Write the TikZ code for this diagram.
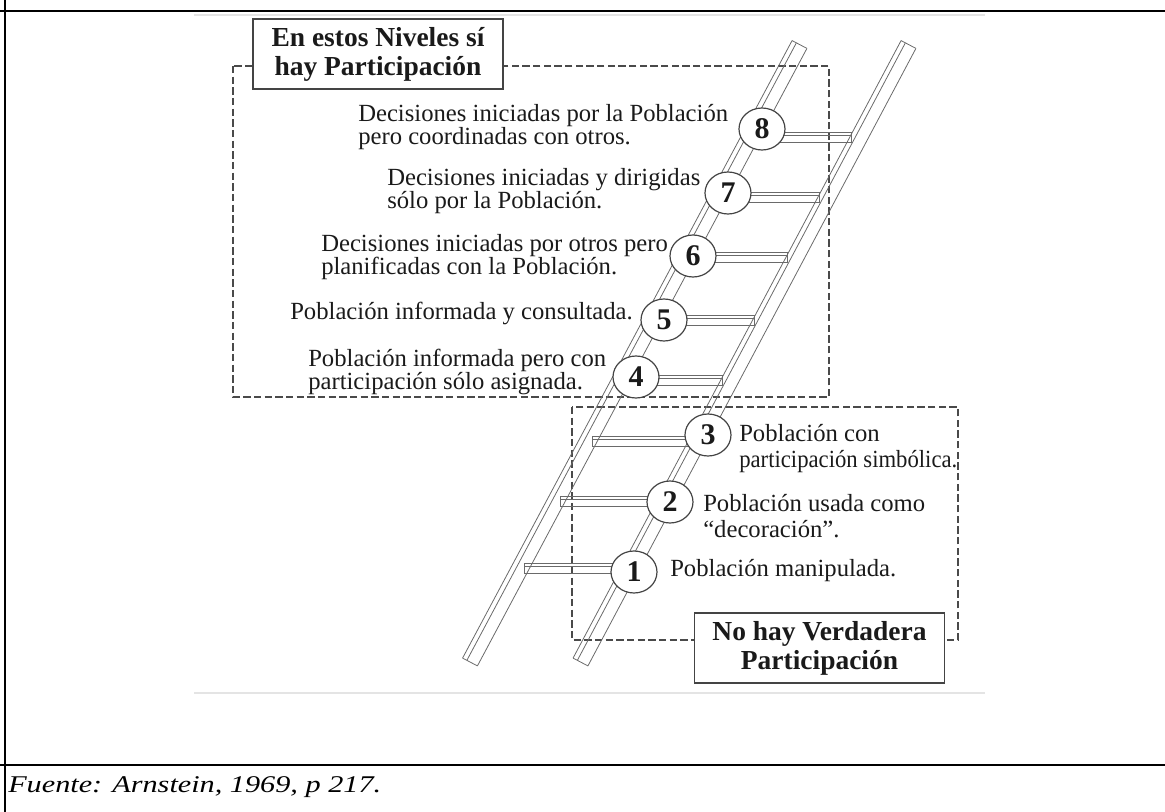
\documentclass[tikz,border=0pt]{standalone}
\usepackage{fontspec}
\setmainfont{Liberation Serif}
\usepackage{graphicx}
\usetikzlibrary{shapes.geometric, calc}

\definecolor{inkgray}{HTML}{1A1A1A}
\definecolor{boxgray}{HTML}{444444}
\definecolor{railgray}{HTML}{6A6A6A}
\definecolor{dashgray}{HTML}{4A4A4A}
\definecolor{edgegray}{HTML}{E4E4E4}

\newcommand{\tightlines}{\setlength{\lineskiplimit}{-100pt}\setlength{\lineskip}{0pt}}

\begin{document}
\begin{tikzpicture}[
      x=0.75pt, y=-0.75pt,
      frameline/.style={
        line width=1.5pt
      },
      levelbox/.style={
        draw=dashgray,
        line width=0.8pt,
        dash pattern=on 5.5pt off 2.5pt
      },
      titlebox/.style={
        rectangle,
        draw=boxgray,
        line width=0.9pt,
        fill=white,
        minimum width=187.5pt,
        minimum height=52.5pt,
        inner sep=0pt,
        align=center,
        text=inkgray,
        font=\fontsize{20.6}{21.75}\selectfont\tightlines\bfseries
      },
      stepnum/.style={
        ellipse,
        draw=boxgray,
        line width=0.9pt,
        fill=white,
        minimum width=34.5pt,
        minimum height=31.5pt,
        inner sep=0pt,
        text=inkgray,
        font=\fontsize{22.5}{22.5}\selectfont\bfseries
      },
      toptext/.style={
        anchor=west,
        inner sep=0pt,
        align=left,
        text=inkgray,
        font=\fontsize{18.5}{17.25}\selectfont\tightlines
      },
      lowtext/.style={
        toptext,
        font=\fontsize{18.5}{19.5}\selectfont\tightlines
      },
      railline/.style={
        draw=railgray,
        line width=0.6pt
      }
    ]
    \useasboundingbox (0,0) rectangle (1165,812);

    % Table frame
    \draw [frameline] (0,11) -- (1165,11);
    \draw [frameline] (0,765) -- (1165,765);
    \draw [frameline] (5,0) -- (5,812);
    \draw [edgegray, line width=0.8pt] (194,15) -- (985,15);
    \draw [edgegray, line width=0.8pt] (194,693) -- (985,693);

    % Dashed level boxes
    \draw [levelbox] (233,66) rectangle (829,397);
    \draw [levelbox] (572,407) rectangle (958,640);

    % Ladder rails
    \coordinate (lrT) at (799.5,44.5);
    \coordinate (lrB) at (470,662);
    \coordinate (rrT) at (908.5,44.5);
    \coordinate (rrB) at (580.5,662);
    \foreach \rail in {lr, rr} {
      \foreach \h in {-9.5, -4, 9.5}
        \draw [railline] ($(\rail T)+(0.78*\h,0.414*\h)$) -- ($(\rail B)+(0.78*\h,0.414*\h)$);
      \draw [railline] ($(\rail T)+(-7.4,-3.9)$) -- ($(\rail T)+(7.4,3.9)$);
      \draw [railline] ($(\rail B)+(-7.4,-3.9)$) -- ($(\rail B)+(7.4,3.9)$);
    }

    % Rungs
    \foreach \n/\cx/\ry/\ex in {8/762/137/851.4, 7/728/197/819.5, 6/693/257/787.6, 5/664/320/754.1,
                               4/636/380/722.3, 3/708/441/591.9, 2/670/501/559.9, 1/634/568/524.2} {
      \draw [railline] (\cx,\ry-5) rectangle (\ex,\ry+5);
      \draw [railline] (\cx,\ry-2) -- (\ex,\ry-2);
    }

    % Step numbers
    \foreach \n/\x/\y in {8/762/129, 7/728/193, 6/693/256, 5/664/320,
                          4/636/377, 3/708/435, 2/670/502, 1/634/572}
      \node (c\n) [stepnum] at (\x,\y) {\n};

    % Upper levels
    \node (t8) [toptext] at (358,127.5) {Decisiones iniciadas por la Población\\pero coordinadas con otros.};
    \node (t7) [toptext] at (387,191.5) {Decisiones iniciadas y dirigidas\\sólo por la Población.};
    \node (t6) [toptext] at (321,257) {Decisiones iniciadas por otros pero\\planificadas con la Población.};
    \node (t5) [toptext] at (290,313) {Población informada y consultada.};
    \node (t4) [toptext] at (308,372) {Población informada pero con\\participación sólo asignada.};

    % Lower levels
    \node (t3) [lowtext] at (739,449) {Población con\\\scalebox{0.92}[1]{participación simbólica.}};
    \node (t2) [lowtext] at (703,516) {Población usada como\\“decoración”.};
    \node (t1) [lowtext] at (670,571) {Población manipulada.};

    % Titles
    \node (yesTitle) [titlebox] at (378,54) {En estos Niveles sí\\hay Participación};
    \node (noTitle) [titlebox] at (819.5,648) {No hay Verdadera\\Participación};

    % Source
    \node (source) [anchor=west, inner sep=0pt, font=\fontsize{18}{18}\selectfont\itshape] at (8,787) {\scalebox{1.26}[1]{Fuente: Arnstein, 1969, p 217.}};

    \end{tikzpicture}
\end{document}
